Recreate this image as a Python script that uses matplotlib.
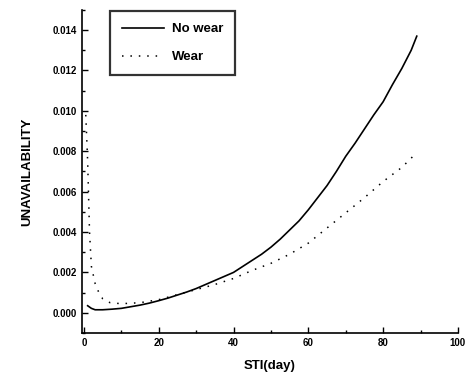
import numpy as np
import matplotlib
matplotlib.use('Agg')
import matplotlib.pyplot as plt
from matplotlib.ticker import MultipleLocator

plt.rcParams['font.family'] = ['Liberation Sans', 'DejaVu Sans']

# values
sti_nowear = [1, 2, 3, 5, 7.5, 10, 12.5, 15, 17.5, 20, 22.5, 25, 27.5, 30, 32.5, 35, 37.5, 40,
              42.5, 45, 47.5, 50, 52.5, 55, 57.5, 60, 62.5, 65, 67.5, 70, 72.5, 75, 77.5, 80,
              82.5, 85, 87.5, 89]
u_nowear = [0.00035, 0.00022, 0.00015, 0.00015, 0.00018, 0.00022, 0.0003, 0.00038, 0.00048,
            0.0006, 0.00073, 0.00088, 0.00103, 0.0012, 0.0014, 0.0016, 0.0018, 0.002, 0.0023,
            0.0026, 0.0029, 0.00325, 0.00365, 0.0041, 0.00455, 0.0051, 0.0057, 0.0063, 0.0070,
            0.00775, 0.0084, 0.0091, 0.0098, 0.01045, 0.0113, 0.0121, 0.0130, 0.0137]

sti_wear = [0.5, 1, 1.5, 2, 3, 4, 5, 7, 10, 15, 20, 25, 30, 35, 40, 45, 50, 55, 60, 65, 70,
            75, 80, 85, 88]
u_wear = [0.0098, 0.0075, 0.0040, 0.0023, 0.00145, 0.001, 0.0007, 0.0005, 0.00045, 0.0005,
          0.00065, 0.0009, 0.00115, 0.0014, 0.0017, 0.0021, 0.00245, 0.0029, 0.00345, 0.0042,
          0.00495, 0.0057, 0.0065, 0.0072, 0.00775]

fig = plt.figure(figsize=(4.77, 3.81), dpi=100)
ax = fig.add_axes([0.172, 0.126, 0.788, 0.848])

ax.plot(sti_nowear, u_nowear, color='black', lw=1.2, label='No wear')
ax.plot(sti_wear, u_wear, color='black', lw=1.1, linestyle=(0, (1, 4.5)), label='Wear')

ax.set_xlim(-0.5, 100)
ax.set_ylim(-0.001, 0.015)
ax.xaxis.set_major_locator(MultipleLocator(20))
ax.xaxis.set_minor_locator(MultipleLocator(10))
ax.yaxis.set_major_locator(MultipleLocator(0.002))
ax.yaxis.set_minor_locator(MultipleLocator(0.001))
ax.yaxis.set_major_formatter(plt.FormatStrFormatter('%.3f'))

for side in ('top', 'right'):
    ax.spines[side].set_visible(False)
for side in ('left', 'bottom'):
    ax.spines[side].set_linewidth(1.2)
ax.tick_params(direction='in', which='major', length=4, width=1, labelsize=7)
ax.tick_params(direction='in', which='minor', length=2.5, width=1)
for lbl in ax.get_xticklabels() + ax.get_yticklabels():
    lbl.set_fontweight('bold')

ax.set_xlabel('STI(day)', fontsize=9.5, fontweight='bold', labelpad=9)
ax.set_ylabel('UNAVAILABILITY', fontsize=9.5, fontweight='bold', labelpad=14)

leg = ax.legend(loc='upper left', bbox_to_anchor=(0.07, 1.0), borderaxespad=0.1,
                frameon=True, fancybox=False, edgecolor='black',
                prop={'size': 9.5, 'weight': 'bold'}, handlelength=3.2,
                borderpad=0.9, labelspacing=1.2, handletextpad=0.6)
leg.get_frame().set_linewidth(1.6)

fig.savefig('out.png', dpi=100)
